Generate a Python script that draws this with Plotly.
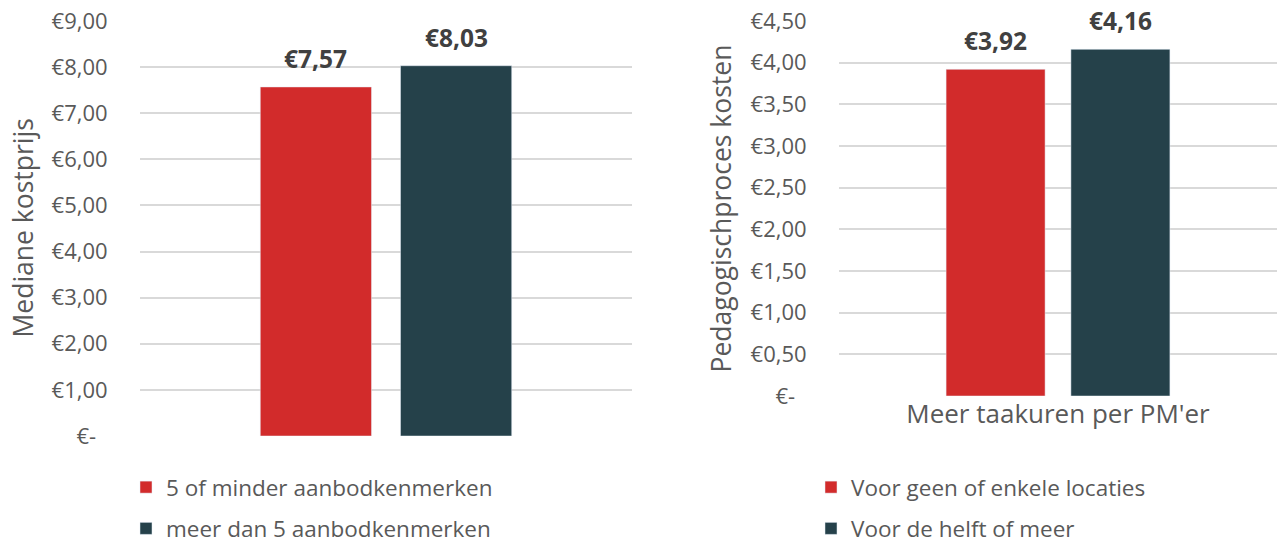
import plotly.graph_objects as go

# --- data -------------------------------------------------------------
left_category = ["Aanbodkenmerken"]
left_series = ["5 of minder aanbodkenmerken", "meer dan 5 aanbodkenmerken"]
left_values = [7.57, 8.03]
left_ticks = [0, 1, 2, 3, 4, 5, 6, 7, 8, 9]

right_category = ["Meer taakuren per PM'er"]
right_series = ["Voor geen of enkele locaties", "Voor de helft of meer"]
right_values = [3.92, 4.16]
right_ticks = [0, 0.5, 1, 1.5, 2, 2.5, 3, 3.5, 4, 4.5]

# --- styling ----------------------------------------------------------
W, H = 1277, 547
COLORS = ["#D22B2B", "#25414A"]
FONT = "Open Sans"
GRAY = "#595959"
DARK = "#404040"
GRID = "#D9D9D9"

LEFT_DOM = [140 / W, 632 / W]
RIGHT_DOM = [839 / W, 1.0]
LEFT_YDOM = [(H - 436) / H, (H - 21) / H]
RIGHT_YDOM = [(H - 396) / H, (H - 21) / H]
BARGAP = 0.43


def euro(v):
    if v == 0:
        return "€-\u00a0\u00a0"
    return "€" + f"{v:.2f}".replace(".", ",")


fig = go.Figure()

for name, val, col in zip(left_series, left_values, COLORS):
    fig.add_trace(go.Bar(
        x=left_category, y=[val], name=name, marker_color=col,
        xaxis="x", yaxis="y", legend="legend", legendgroup=name,
    ))
for name, val, col in zip(right_series, right_values, COLORS):
    fig.add_trace(go.Bar(
        x=right_category, y=[val], name=name, marker_color=col,
        xaxis="x2", yaxis="y2", legend="legend2", legendgroup=name,
    ))

# value labels above each bar
annotations = []
for dom, cat, vals, xr, yr in [
    (LEFT_DOM, left_category, left_values, "x", "y"),
    (RIGHT_DOM, right_category, right_values, "x2", "y2"),
]:
    slot = (dom[1] - dom[0]) * W * (1 - BARGAP) / len(vals)
    for i, v in enumerate(vals):
        annotations.append(dict(
            x=cat[0], y=v, xref=xr, yref=yr, text=f"<b>{euro(v)}</b>",
            showarrow=False, yanchor="bottom",
            xshift=(i - (len(vals) - 1) / 2) * slot, yshift=10,
            font=dict(family=FONT, size=24.5, color=DARK),
        ))

# axis titles
annotations.append(dict(
    x=22 / W, y=sum(LEFT_YDOM) / 2, xref="paper", yref="paper",
    text="Mediane kostprijs", textangle=-90, showarrow=False,
    xanchor="center", yanchor="middle",
    font=dict(family=FONT, size=26.5, color=GRAY),
))
annotations.append(dict(
    x=720 / W, y=sum(RIGHT_YDOM) / 2, xref="paper", yref="paper",
    text="Pedagogischproces kosten", textangle=-90, showarrow=False,
    xanchor="center", yanchor="middle",
    font=dict(family=FONT, size=26.5, color=GRAY),
))

yaxis_common = dict(
    showgrid=True, gridcolor=GRID, gridwidth=1.5, zeroline=False,
    showline=False, ticks="outside", ticklen=27, tickcolor="rgba(0,0,0,0)",
    tickfont=dict(family=FONT, size=22, color=GRAY), tickmode="array",
    automargin=False,
)

legend_common = dict(
    xanchor="left", yanchor="top", orientation="v", tracegroupgap=9,
    itemwidth=30, font=dict(family=FONT, size=22.5, color=GRAY),
    bgcolor="rgba(0,0,0,0)",
)

fig.update_layout(
    width=W, height=H,
    margin=dict(l=0, r=0, t=0, b=0, autoexpand=False),
    paper_bgcolor="white", plot_bgcolor="white",
    barmode="group", bargap=BARGAP, bargroupgap=0.207,
    font=dict(family=FONT, color=GRAY),
    xaxis=dict(domain=LEFT_DOM, anchor="y", type="category",
               showticklabels=False, showgrid=False, showline=False,
               ticks="", automargin=False),
    yaxis=dict(domain=LEFT_YDOM, anchor="x", range=[0, 9],
               tickvals=left_ticks, ticktext=[euro(t) for t in left_ticks],
               **yaxis_common),
    xaxis2=dict(domain=RIGHT_DOM, anchor="y2", type="category",
                showgrid=False, showline=False, ticks="", automargin=False,
                tickfont=dict(family=FONT, size=26, color=GRAY)),
    yaxis2=dict(domain=RIGHT_YDOM, anchor="x2", range=[0, 4.5],
                tickvals=right_ticks, ticktext=[euro(t) for t in right_ticks],
                **yaxis_common),
    legend=dict(x=126 / W, y=(H - 466) / H, **legend_common),
    legend2=dict(x=811 / W, y=(H - 466) / H, **legend_common),
    annotations=annotations,
)

fig.write_html("out.html")
